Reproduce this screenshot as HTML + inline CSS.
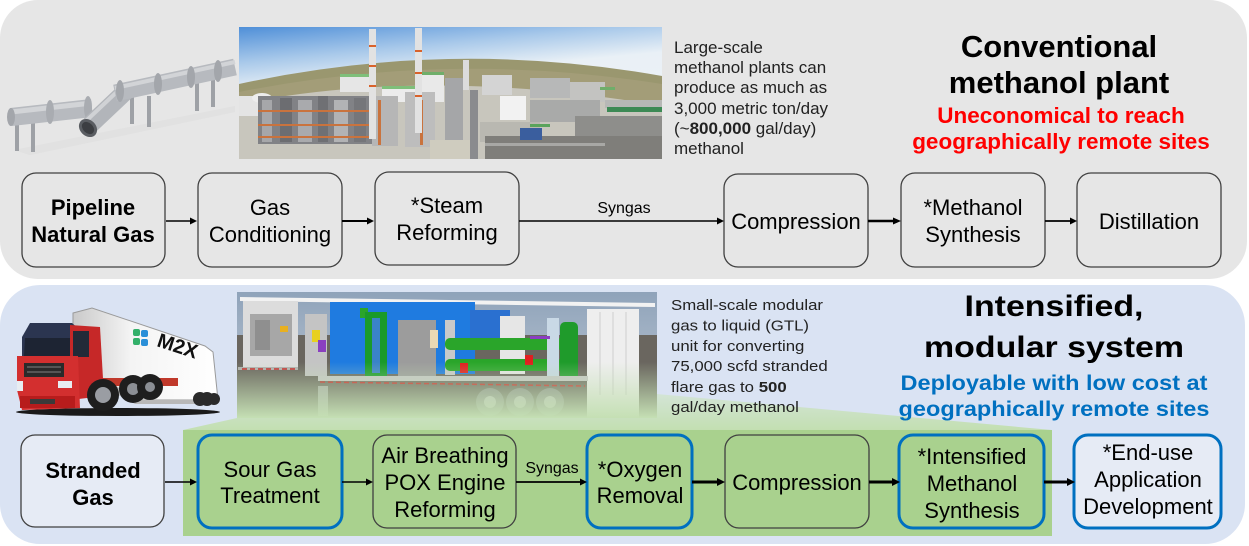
<!DOCTYPE html>
<html>
<head>
<meta charset="utf-8">
<style>
html,body{margin:0;padding:0;background:#fff;}
svg{display:block;}
text{font-family:"Liberation Sans",Arial,sans-serif;}
</style>
</head>
<body>
<svg width="1249" height="546" viewBox="0 0 1249 546" xmlns="http://www.w3.org/2000/svg">
<defs>
  <linearGradient id="sky" x1="0" y1="0" x2="0.3" y2="1">
    <stop offset="0" stop-color="#4f8fd8"/>
    <stop offset="0.25" stop-color="#a9c9ea"/>
    <stop offset="0.45" stop-color="#e9f0f6"/>
    <stop offset="1" stop-color="#f0f3f5"/>
  </linearGradient>
  <linearGradient id="trap" x1="0" y1="0" x2="0" y2="1">
    <stop offset="0" stop-color="#d3e4d6"/>
    <stop offset="1" stop-color="#c3dfb2"/>
  </linearGradient>
  <linearGradient id="fade" x1="0" y1="0" x2="0" y2="1">
    <stop offset="0" stop-color="#c5e0b4" stop-opacity="0"/>
    <stop offset="1" stop-color="#c5e0b4" stop-opacity="1"/>
  </linearGradient>
  <linearGradient id="tsky" x1="0" y1="0" x2="0" y2="1">
    <stop offset="0" stop-color="#8fa3ba"/>
    <stop offset="1" stop-color="#c3ccd6"/>
  </linearGradient>
  <linearGradient id="trailerBody" x1="0" y1="0" x2="1" y2="0">
    <stop offset="0" stop-color="#c9c9c9"/>
    <stop offset="0.4" stop-color="#f4f4f4"/>
    <stop offset="1" stop-color="#ffffff"/>
  </linearGradient>
  <clipPath id="photo"><rect x="239" y="27" width="423" height="132"/></clipPath>
  <clipPath id="trl"><rect x="237" y="292" width="420" height="126"/></clipPath>
</defs>

<!-- Panels -->
<rect x="0" y="0" width="1247" height="279" rx="38" fill="#e6e6e6"/>
<rect x="0" y="285" width="1245" height="259" rx="40" fill="#dae3f3"/>

<!-- ===== Pipeline drawing ===== -->
<g>
  <polygon points="14,150 235,106 235,112 30,155" fill="#dcdcdc" opacity="0.5"/>
  <rect x="15" y="118" width="4" height="33" fill="#9ea1a6"/>
  <rect x="31" y="120" width="4" height="32" fill="#9ea1a6"/>
  <rect x="130" y="96" width="4" height="28" fill="#9ea1a6"/>
  <rect x="147" y="96" width="4" height="31" fill="#9ea1a6"/>
  <rect x="195" y="83" width="4" height="28" fill="#9ea1a6"/>
  <rect x="211" y="79" width="4" height="28" fill="#9ea1a6"/>
  <line x1="11" y1="117" x2="92" y2="108" stroke="#b7babf" stroke-width="18"/>
  <line x1="11" y1="112" x2="92" y2="103" stroke="#d2d4d7" stroke-width="5"/>
  <ellipse cx="11" cy="117" rx="4" ry="9" fill="#a3a6ab"/>
  <ellipse cx="50" cy="112" rx="4" ry="12" fill="#a9acb1"/>
  <ellipse cx="88" cy="108" rx="4" ry="12" fill="#a9acb1"/>
  <line x1="90" y1="125" x2="126" y2="91" stroke="#b2b5ba" stroke-width="18"/>
  <line x1="86" y1="121" x2="122" y2="87" stroke="#d0d2d5" stroke-width="4"/>
  <ellipse cx="88" cy="128" rx="8" ry="10" transform="rotate(-45 88 128)" fill="#5a5d62"/>
  <ellipse cx="88" cy="128" rx="5" ry="7" transform="rotate(-45 88 128)" fill="#3c3e42"/>
  <line x1="115" y1="93" x2="235" y2="67" stroke="#b7babf" stroke-width="17"/>
  <line x1="115" y1="88" x2="235" y2="62" stroke="#d2d4d7" stroke-width="4"/>
  <ellipse cx="120" cy="91" rx="4" ry="11" fill="#a3a6ab"/>
  <ellipse cx="158" cy="84" rx="4" ry="11" fill="#a3a6ab"/>
  <ellipse cx="191" cy="77" rx="4" ry="11" fill="#a3a6ab"/>
  <ellipse cx="218" cy="71" rx="4" ry="11" fill="#a3a6ab"/>
</g>

<!-- ===== Plant photo ===== -->
<g clip-path="url(#photo)">
  <rect x="239" y="27" width="423" height="132" fill="url(#sky)"/>
  <path d="M239,84 Q450,38 662,76 L662,159 L239,159 Z" fill="#9a976f"/>
  <path d="M239,92 Q450,50 662,84 L662,159 L239,159 Z" fill="#a39d78"/>
  <path d="M239,104 Q430,66 662,106 L662,159 L239,159 Z" fill="#c8c6bd"/>
  <!-- white tanks left -->
  <rect x="239" y="96" width="22" height="20" fill="#e4e4e4"/>
  <ellipse cx="262" cy="98" rx="10" ry="5" fill="#ededed"/>
  <!-- left lattice -->
  <rect x="258" y="96" width="118" height="48" fill="#818286"/>
  <rect x="262" y="100" width="10" height="42" fill="#a6a7aa"/>
  <rect x="280" y="98" width="12" height="44" fill="#6c6d71"/>
  <rect x="298" y="100" width="14" height="42" fill="#a9aaad"/>
  <rect x="318" y="96" width="10" height="46" fill="#6f7074"/>
  <rect x="334" y="100" width="14" height="42" fill="#b2b3b5"/>
  <rect x="354" y="98" width="12" height="44" fill="#75767a"/>
  <rect x="258" y="110" width="118" height="2" fill="#c9733e"/>
  <rect x="258" y="124" width="118" height="2" fill="#c9733e"/>
  <rect x="258" y="136" width="118" height="2" fill="#c9733e"/>
  <!-- center white buildings w/ green roofs -->
  <rect x="340" y="74" width="35" height="18" fill="#e6e6e6"/>
  <rect x="340" y="74" width="35" height="3" fill="#7fbf7a"/>
  <rect x="382" y="86" width="40" height="16" fill="#ececec"/>
  <rect x="382" y="86" width="40" height="3" fill="#7fbf7a"/>
  <rect x="420" y="72" width="24" height="30" fill="#e9e9e9"/>
  <rect x="420" y="72" width="24" height="3" fill="#6fae6a"/>
  <!-- towers -->
  <rect x="372" y="96" width="26" height="50" fill="#b6b6b6"/>
  <rect x="405" y="92" width="30" height="55" fill="#bdbdbd"/>
  <rect x="378" y="100" width="3" height="45" fill="#c9733e"/>
  <rect x="420" y="100" width="3" height="45" fill="#c9733e"/>
  <rect x="369" y="29" width="7" height="110" fill="#e2e2e2"/>
  <rect x="415" y="28" width="7" height="105" fill="#e2e2e2"/>
  <rect x="369" y="45" width="7" height="2" fill="#d9622b"/>
  <rect x="369" y="65" width="7" height="2" fill="#d9622b"/>
  <rect x="369" y="85" width="7" height="2" fill="#d9622b"/>
  <rect x="415" y="50" width="7" height="2" fill="#d9622b"/>
  <rect x="415" y="72" width="7" height="2" fill="#d9622b"/>
  <rect x="415" y="95" width="7" height="2" fill="#d9622b"/>
  <!-- central corridor -->
  <rect x="445" y="78" width="18" height="70" fill="#a5a6a8"/>
  <rect x="463" y="60" width="6" height="30" fill="#dcdcdc"/>
  <rect x="470" y="90" width="8" height="69" fill="#8a8b8e"/>
  <!-- right side -->
  <rect x="482" y="75" width="30" height="20" fill="#d4d4d4"/>
  <rect x="500" y="96" width="26" height="24" fill="#f2f2f2"/>
  <rect x="530" y="78" width="40" height="20" fill="#b7b8b8"/>
  <rect x="570" y="82" width="35" height="20" fill="#c3c3c1"/>
  <rect x="600" y="87" width="15" height="3" fill="#6fae6a"/>
  <rect x="530" y="100" width="70" height="22" fill="#a9aaa9"/>
  <rect x="605" y="100" width="57" height="8" fill="#b7b8b6"/>
  <rect x="607" y="107" width="55" height="5" fill="#3d8a55"/>
  <rect x="575" y="116" width="87" height="20" fill="#8e8e8b"/>
  <rect x="480" y="122" width="60" height="20" fill="#b9b8b1"/>
  <rect x="485" y="136" width="177" height="23" fill="#7f7e7a"/>
  <rect x="520" y="128" width="22" height="12" fill="#3a5e9e"/>
  <rect x="530" y="124" width="20" height="3" fill="#5aa35c"/>
  <rect x="485" y="143" width="120" height="3" fill="#a8a8a5"/>
  <rect x="430" y="140" width="40" height="19" fill="#cfccbf"/>
</g>

<!-- Top description text -->
<g font-size="17" fill="#222">
  <text x="674" y="53">Large-scale</text>
  <text x="674" y="73">methanol plants can</text>
  <text x="674" y="93">produce as much as</text>
  <text x="674" y="114">3,000 metric ton/day</text>
  <text x="674" y="134">(~<tspan font-weight="bold">800,000</tspan> gal/day)</text>
  <text x="674" y="154">methanol</text>
</g>

<!-- Top titles -->
<g text-anchor="middle" font-weight="bold">
  <text x="1059" y="57" font-size="31" fill="#000">Conventional</text>
  <text x="1059" y="93" font-size="31" fill="#000">methanol plant</text>
  <text x="1061" y="123" font-size="22.5" fill="#ff0000">Uneconomical to reach</text>
  <text x="1061" y="149" font-size="22.5" fill="#ff0000">geographically remote sites</text>
</g>

<!-- Top row boxes -->
<g fill="none" stroke="#404040" stroke-width="1.3">
  <rect x="22" y="173" width="143" height="94" rx="14"/>
  <rect x="198" y="173" width="144" height="94" rx="14"/>
  <rect x="375" y="172" width="144" height="93" rx="14"/>
  <rect x="724" y="174" width="144" height="93" rx="14"/>
  <rect x="901" y="173" width="144" height="94" rx="14"/>
  <rect x="1077" y="173" width="144" height="94" rx="14"/>
</g>
<g font-size="22" text-anchor="middle" fill="#000">
  <text x="93" y="215" font-weight="bold">Pipeline</text>
  <text x="93" y="242" font-weight="bold">Natural Gas</text>
  <text x="270" y="215">Gas</text>
  <text x="270" y="242">Conditioning</text>
  <text x="447" y="213">*Steam</text>
  <text x="447" y="240">Reforming</text>
  <text x="796" y="229">Compression</text>
  <text x="973" y="215">*Methanol</text>
  <text x="973" y="242">Synthesis</text>
  <text x="1149" y="229">Distillation</text>
</g>

<!-- Top arrows -->
<g stroke="#000" fill="#000">
  <line x1="166" y1="221" x2="191" y2="221" stroke-width="1.5"/>
  <polygon points="190,217.5 197,221 190,224.5" stroke="none"/>
  <line x1="342" y1="221" x2="368" y2="221" stroke-width="2"/>
  <polygon points="367,217.5 374,221 367,224.5" stroke="none"/>
  <line x1="519" y1="221" x2="718" y2="221" stroke-width="1.5"/>
  <polygon points="717,217.5 724,221 717,224.5" stroke="none"/>
  <line x1="868" y1="221" x2="894" y2="221" stroke-width="2.5"/>
  <polygon points="893,217.5 901,221 893,224.5" stroke="none"/>
  <line x1="1045" y1="221" x2="1071" y2="221" stroke-width="1.8"/>
  <polygon points="1070,217.5 1077,221 1070,224.5" stroke="none"/>
</g>
<text x="624" y="213" font-size="16" text-anchor="middle" fill="#000">Syngas</text>

<!-- ===== Bottom panel ===== -->
<polygon points="183,430 237,418 657,394 1052,430" fill="url(#trap)"/>

<!-- Trailer image -->
<g clip-path="url(#trl)">
  <rect x="237" y="292" width="420" height="126" fill="url(#tsky)"/>
  <rect x="237" y="335" width="420" height="83" fill="#6a665f"/>
  <polygon points="240,297 655,303 655,307 240,301" fill="#f2f2f2"/>
  <rect x="243" y="301" width="55" height="68" fill="#dcdcdc"/>
  <rect x="250" y="314" width="42" height="42" fill="#a7a7a7"/>
  <rect x="255" y="320" width="15" height="30" fill="#8f8f8f"/>
  <rect x="280" y="326" width="8" height="6" fill="#e8b020"/>
  <rect x="305" y="314" width="22" height="62" fill="#c4c4c4"/>
  <rect x="312" y="330" width="8" height="12" fill="#e8d020"/>
  <rect x="318" y="340" width="8" height="12" fill="#8a3fc0"/>
  <rect x="330" y="302" width="145" height="72" fill="#1f7be0"/>
  <rect x="360" y="308" width="8" height="10" fill="#2aa52a"/>
  <rect x="365" y="312" width="22" height="66" fill="#1a9a2a"/>
  <rect x="372" y="318" width="8" height="55" fill="#3a83c8"/>
  <rect x="398" y="320" width="38" height="56" fill="#9c9c9c"/>
  <rect x="430" y="330" width="8" height="18" fill="#ead9b4"/>
  <rect x="445" y="320" width="10" height="55" fill="#c9c9c9"/>
  <rect x="470" y="310" width="40" height="40" fill="#2a70d0"/>
  <rect x="500" y="316" width="25" height="58" fill="#e6e6e6"/>
  <rect x="445" y="338" width="118" height="12" rx="5" fill="#2aa52a"/>
  <rect x="445" y="359" width="118" height="12" rx="5" fill="#2aa52a"/>
  <rect x="460" y="363" width="8" height="10" fill="#e01f1f"/>
  <rect x="525" y="355" width="8" height="10" fill="#e01f1f"/>
  <rect x="560" y="322" width="18" height="58" rx="5" fill="#1f9b2b"/>
  <rect x="547" y="318" width="12" height="60" fill="#c9d9e6"/>
  <rect x="530" y="336" width="20" height="3" fill="#8a3fc0"/>
  <rect x="587" y="309" width="52" height="110" fill="#eeeeee"/>
  <line x1="600" y1="312" x2="600" y2="395" stroke="#cfcfcf" stroke-width="1"/>
  <line x1="613" y1="312" x2="613" y2="395" stroke="#cfcfcf" stroke-width="1"/>
  <line x1="626" y1="312" x2="626" y2="395" stroke="#cfcfcf" stroke-width="1"/>
  <rect x="238" y="367" width="60" height="3" fill="#b0b0b0"/>
  <line x1="242" y1="369" x2="298" y2="369" stroke="#c82020" stroke-width="1.5" stroke-dasharray="5,3"/>
  <rect x="318" y="376" width="270" height="5" fill="#c7c7c7"/>
  <line x1="320" y1="382" x2="585" y2="386" stroke="#c82020" stroke-width="1.5" stroke-dasharray="5,3"/>
  <rect x="318" y="386" width="10" height="30" fill="#a6a6a6"/>
  <circle cx="490" cy="402" r="14" fill="#8a8a8a"/>
  <circle cx="520" cy="402" r="14" fill="#8a8a8a"/>
  <circle cx="550" cy="402" r="14" fill="#8a8a8a"/>
  <circle cx="490" cy="402" r="6" fill="#bdbdbd"/>
  <circle cx="520" cy="402" r="6" fill="#bdbdbd"/>
  <circle cx="550" cy="402" r="6" fill="#bdbdbd"/>
  <rect x="237" y="362" width="420" height="56" fill="url(#fade)"/>
</g>

<!-- Green rect -->
<rect x="183" y="430" width="869" height="106" fill="#a9d18e"/>

<!-- Truck -->
<g>
  <ellipse cx="118" cy="412" rx="102" ry="4" fill="#1a1a1a"/>
  <polygon points="73,313 92,308 205,346 213,352 218,400 140,400 100,378 73,368" fill="url(#trailerBody)" stroke="#9a9a9a" stroke-width="1"/>
  <polygon points="100,378 140,400 218,400 218,404 135,404 98,384" fill="#b8b8b8"/>
  <rect x="88" y="378" width="90" height="8" fill="#c0392b"/>
  <rect x="133" y="329" width="7" height="7" rx="2" fill="#33b06a"/>
  <rect x="133" y="338" width="7" height="7" rx="2" fill="#33b06a"/>
  <rect x="141" y="330" width="7" height="7" rx="2" fill="#2a8fd8"/>
  <rect x="141" y="339" width="7" height="7" rx="2" fill="#2a8fd8"/>
  <text x="156" y="346" font-size="20" font-weight="bold" fill="#111" transform="rotate(18 156 346)">M2X</text>
  <polygon points="22,337 30,323 72,323 80,330 80,356 22,356" fill="#2b3550"/>
  <polygon points="25,338 70,338 70,356 24,356" fill="#1d2433"/>
  <polygon points="70,325 100,327 104,396 70,400" fill="#c62828"/>
  <rect x="73" y="331" width="16" height="26" fill="#222a38"/>
  <polygon points="17,356 78,356 80,408 22,410 17,390" fill="#d32f2f"/>
  <rect x="24" y="363" width="40" height="14" fill="#2a2a2a"/>
  <rect x="27" y="366" width="34" height="2" fill="#555"/>
  <rect x="27" y="371" width="34" height="2" fill="#555"/>
  <rect x="58" y="381" width="14" height="7" fill="#e8edf2"/>
  <rect x="17" y="381" width="6" height="10" fill="#e8edf2"/>
  <rect x="20" y="396" width="55" height="12" fill="#b71c1c"/>
  <rect x="30" y="399" width="25" height="5" fill="#3a3a3a"/>
  <circle cx="103" cy="395" r="16" fill="#1e1e1e"/>
  <circle cx="103" cy="395" r="8" fill="#9a9da3"/>
  <circle cx="133" cy="389" r="14" fill="#1e1e1e"/>
  <circle cx="133" cy="389" r="6" fill="#8c8f95"/>
  <circle cx="150" cy="387" r="13" fill="#1e1e1e"/>
  <circle cx="150" cy="387" r="5" fill="#8c8f95"/>
  <circle cx="200" cy="399" r="7" fill="#2a2a2a"/>
  <circle cx="207" cy="399" r="7" fill="#2a2a2a"/>
  <circle cx="214" cy="399" r="6" fill="#2a2a2a"/>
</g>

<!-- Bottom description text -->
<g transform="translate(671,0) scale(1.12,1)" font-size="15" fill="#222">
  <text x="0" y="310">Small-scale modular</text>
  <text x="0" y="330.5">gas to liquid (GTL)</text>
  <text x="0" y="351">unit for converting</text>
  <text x="0" y="371">75,000 scfd stranded</text>
  <text x="0" y="392">flare gas to <tspan font-weight="bold">500</tspan></text>
  <text x="0" y="412">gal/day methanol</text>
</g>

<!-- Bottom titles -->
<g transform="translate(1054,0) scale(1.13,1)" text-anchor="middle" font-weight="bold">
  <text x="0" y="316" font-size="30" fill="#000">Intensified,</text>
  <text x="0" y="357" font-size="30" fill="#000">modular system</text>
</g>
<g transform="translate(1054,0) scale(1.12,1)" text-anchor="middle" font-weight="bold">
  <text x="0" y="390" font-size="21" fill="#0070c0">Deployable with low cost at</text>
  <text x="0" y="416" font-size="21" fill="#0070c0">geographically remote sites</text>
</g>

<!-- Bottom row boxes -->
<rect x="21" y="435" width="143" height="92" rx="14" fill="#e6ebf5" stroke="#404040" stroke-width="1.3"/>
<rect x="198" y="435" width="144" height="93" rx="14" fill="none" stroke="#0070c0" stroke-width="3"/>
<rect x="373" y="435" width="143" height="93" rx="14" fill="none" stroke="#404040" stroke-width="1.3"/>
<rect x="587" y="435" width="105" height="93" rx="14" fill="none" stroke="#0070c0" stroke-width="3"/>
<rect x="725" y="435" width="144" height="93" rx="14" fill="none" stroke="#404040" stroke-width="1.3"/>
<rect x="899" y="435" width="145" height="93" rx="14" fill="none" stroke="#0070c0" stroke-width="3"/>
<rect x="1074" y="435" width="147" height="93" rx="14" fill="#e6ebf5" stroke="#0070c0" stroke-width="3"/>

<g font-size="22" text-anchor="middle" fill="#000">
  <text x="93" y="478" font-weight="bold">Stranded</text>
  <text x="93" y="505" font-weight="bold">Gas</text>
  <text x="270" y="477">Sour Gas</text>
  <text x="270" y="503">Treatment</text>
  <text x="445" y="463">Air Breathing</text>
  <text x="445" y="490">POX Engine</text>
  <text x="445" y="517">Reforming</text>
  <text x="640" y="477">*Oxygen</text>
  <text x="640" y="503">Removal</text>
  <text x="797" y="490">Compression</text>
  <text x="972" y="464">*Intensified</text>
  <text x="972" y="491">Methanol</text>
  <text x="972" y="518">Synthesis</text>
  <text x="1148" y="460">*End-use</text>
  <text x="1148" y="487">Application</text>
  <text x="1148" y="514">Development</text>
</g>

<!-- Bottom arrows -->
<g stroke="#000" fill="#000">
  <line x1="165" y1="482" x2="191" y2="482" stroke-width="1.5"/>
  <polygon points="190,478.5 197,482 190,485.5" stroke="none"/>
  <line x1="342" y1="482" x2="367" y2="482" stroke-width="1.5"/>
  <polygon points="366,478.5 373,482 366,485.5" stroke="none"/>
  <line x1="516" y1="482" x2="581" y2="482" stroke-width="1.8"/>
  <polygon points="580,478.5 587,482 580,485.5" stroke="none"/>
  <line x1="692" y1="482" x2="718" y2="482" stroke-width="3"/>
  <polygon points="717,478 725,482 717,486" stroke="none"/>
  <line x1="869" y1="482" x2="893" y2="482" stroke-width="3"/>
  <polygon points="892,478 900,482 892,486" stroke="none"/>
  <line x1="1044" y1="482" x2="1068" y2="482" stroke-width="3"/>
  <polygon points="1067,478 1075,482 1067,486" stroke="none"/>
</g>
<text x="552" y="473" font-size="16" text-anchor="middle" fill="#000">Syngas</text>

</svg>
</body>
</html>
